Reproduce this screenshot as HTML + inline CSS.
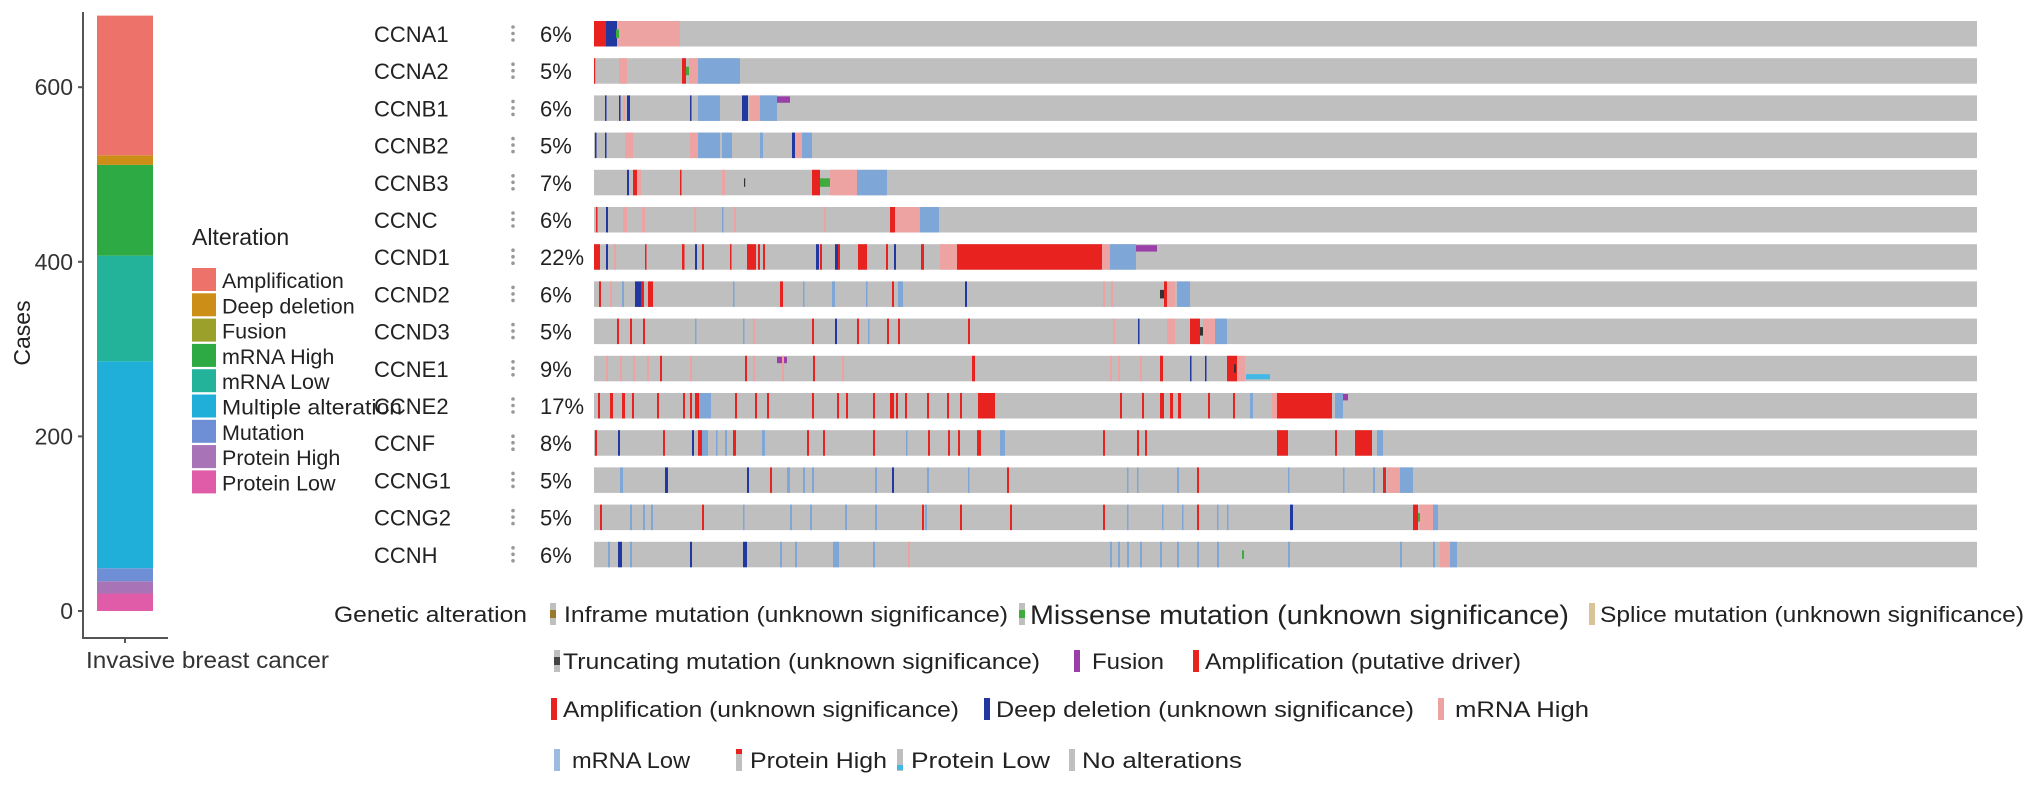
<!DOCTYPE html>
<html><head><meta charset="utf-8">
<style>
html,body{margin:0;padding:0;background:#fff;}
svg{display:block;font-family:"Liberation Sans",Arial,sans-serif;}
</style></head>
<body>
<svg id="chart" width="2032" height="786" viewBox="0 0 2032 786" xmlns="http://www.w3.org/2000/svg">
  <g id="bar-panel"></g>
  <g id="alt-legend"></g>
  <g id="onco"></g>
  <g id="gen-legend"></g>
</svg>
<script>
// ---------- stacked bar data ----------
const barCategories = ["Protein Low","Protein High","Mutation","Multiple alteration","mRNA Low","mRNA High","Fusion","Deep deletion","Amplification"];
const barValues = [20,14,15,237,121,104,0,11,160];
const barColors = ["#e05ba8","#a873b7","#6e8fd5","#1fafd8","#22b39a","#2eaa45","#9aa02a","#cc8e17","#ed726a"];
const yTicks = [0,200,400,600];
const legendOrder = ["Amplification","Deep deletion","Fusion","mRNA High","mRNA Low","Multiple alteration","Mutation","Protein High","Protein Low"];

// ---------- oncoprint data ----------
const genes = ["CCNA1","CCNA2","CCNB1","CCNB2","CCNB3","CCNC","CCND1","CCND2","CCND3","CCNE1","CCNE2","CCNF","CCNG1","CCNG2","CCNH"];
const percents = ["6%","5%","6%","5%","7%","6%","22%","6%","5%","9%","17%","8%","5%","5%","6%"];
const nSamples = 1383;
// events: [sampleStart, sampleWidth, type]
const evCCNA1 = [[0,12,"A"],[12,11,"D"],[23,63,"L"],[22,3,"M"]];
const evCCNA2 = [[0,1,"A"],[25,8,"L"],[88,4,"A"],[92,3,"M"],[95,9,"L"],[104,42,"B"]];
const evCCNB1 = [[11,1.5,"D"],[25,1.5,"D"],[29,2,"L"],[33,3,"D"],[96,1.5,"D"],[104,22,"B"],[148,6,"D"],[156,10,"L"],[166,17,"B"],[183,13,"F"]];
const evCCNB2 = [[1,1.5,"D"],[11,1.5,"D"],[31,8,"L"],[96,8,"L"],[104,22,"B"],[128,10,"B"],[166,3,"B"],[198,3,"D"],[201,7,"L"],[208,10,"B"]];
const evCCNB3 = [[33,2,"D"],[39,4,"A"],[43,4,"L"],[86,1.5,"A"],[128,3,"L"],[150,1,"T"],[218,8,"A"],[226,10,"M"],[236,27,"L"],[263,30,"B"]];
const evCCNC = [[2,1.5,"A"],[12,2,"D"],[29,4,"L"],[48,3,"L"],[100,2,"L"],[128,1.5,"B"],[140,2,"L"],[230,2,"L"],[296,5,"A"],[301,25,"L"],[326,19,"B"]];
const evCCND1 = [[0,6,"A"],[12,2,"D"],[20,2,"L"],[51,1.5,"A"],[88,2.5,"A"],[101,2,"D"],[108,2,"A"],[136,1.5,"A"],[153,6,"A"],[159,3,"A"],[164,2,"A"],[169,2,"A"],[222,3,"D"],[226,2,"A"],[241,3,"D"],[244,2,"A"],[264,9,"A"],[292,2,"A"],[300,2,"D"],[327,3,"A"],[346,17,"L"],[363,145,"A"],[508,8,"L"],[516,26,"B"],[542,21,"F"]];
const evCCND2 = [[5,2,"A"],[16,2,"L"],[28,2,"B"],[41,8,"D"],[47,3,"A"],[54,5,"A"],[139,1.5,"B"],[186,3,"A"],[209,1.5,"B"],[238,3,"B"],[272,1.5,"B"],[298,2,"A"],[304,5,"B"],[371,2,"D"],[509,2,"L"],[517,2,"L"],[566,4,"T"],[570,3,"A"],[573,8,"L"],[583,13,"B"]];
const evCCND3 = [[23,2,"A"],[36,2,"A"],[49,2,"A"],[101,1.5,"B"],[149,1.5,"B"],[159,2,"L"],[218,2,"A"],[241,2,"D"],[263,2,"A"],[274,1.5,"B"],[293,2,"A"],[304,2,"A"],[374,2,"A"],[519,2,"L"],[544,1.5,"D"],[573,8,"L"],[596,10,"A"],[606,3,"T"],[609,12,"L"],[621,12,"B"]];
const evCCNE1 = [[12,2,"L"],[26,2,"L"],[39,2,"L"],[53,2,"L"],[66,2,"A"],[96,2,"L"],[151,2,"A"],[159,2,"L"],[183,10,"F"],[188,2,"L"],[219,2,"A"],[248,2,"L"],[378,3,"A"],[516,2,"L"],[524,2,"L"],[546,2,"L"],[566,3,"A"],[596,1.5,"D"],[611,1.5,"D"],[633,10,"A"],[640,2,"T"],[643,8,"L"],[652,24,"Q"]];
const evCCNE2 = [[4,2,"A"],[16,3,"A"],[28,3,"A"],[38,2,"A"],[63,2,"A"],[89,2,"A"],[96,2,"A"],[101,4,"A"],[105,12,"B"],[141,2,"A"],[161,2,"A"],[173,2,"A"],[218,2,"A"],[243,2,"A"],[252,2,"A"],[279,2,"A"],[296,4,"A"],[302,2,"A"],[311,2,"A"],[333,2,"A"],[353,2,"A"],[366,2,"A"],[384,17,"A"],[526,2,"A"],[548,2,"A"],[566,4,"A"],[576,3,"A"],[584,3,"A"],[614,2,"A"],[639,2,"A"],[656,3,"B"],[678,5,"L"],[683,55,"A"],[741,8,"B"],[749,5,"F"]];
const evCCNF = [[1,2,"A"],[24,2,"D"],[69,2,"A"],[98,2,"D"],[104,4,"A"],[108,6,"B"],[122,1.5,"B"],[131,2,"B"],[139,3,"A"],[168,3,"B"],[213,2,"A"],[229,2,"A"],[279,2,"A"],[312,1.5,"B"],[334,2,"A"],[354,2,"A"],[364,2,"A"],[383,4,"A"],[406,5,"B"],[509,2,"A"],[543,2,"A"],[551,2,"A"],[683,11,"A"],[741,2,"A"],[761,17,"A"],[783,6,"B"]];
const evCCNG1 = [[26,3,"B"],[71,3,"D"],[153,2,"D"],[176,2,"A"],[193,3,"B"],[209,2,"B"],[218,2,"B"],[281,2,"B"],[298,2,"D"],[333,2,"B"],[374,1.5,"B"],[413,2,"A"],[533,1.5,"B"],[543,1.5,"B"],[583,2,"B"],[603,2,"A"],[694,1.5,"B"],[749,1.5,"B"],[779,2,"B"],[789,3,"A"],[793,13,"L"],[806,13,"B"]];
const evCCNG2 = [[6,2,"A"],[36,2,"B"],[49,2,"B"],[57,2,"B"],[108,2,"A"],[149,1.5,"B"],[196,2,"B"],[216,2,"B"],[251,2,"B"],[281,2,"B"],[328,2,"A"],[331,2,"B"],[366,2,"A"],[416,2,"A"],[509,2,"A"],[533,1.5,"B"],[568,1.5,"B"],[588,1.5,"B"],[603,2,"A"],[623,1.5,"B"],[633,1.5,"B"],[696,3,"D"],[819,5,"A"],[824,2,"M"],[826,13,"L"],[839,5,"B"]];
const evCCNH = [[14,2,"B"],[24,4,"D"],[36,2,"B"],[96,2,"D"],[149,4,"D"],[186,2,"B"],[201,2,"B"],[239,6,"B"],[279,2,"B"],[314,2,"L"],[516,2,"B"],[524,2,"B"],[533,2,"B"],[546,2,"B"],[566,2,"B"],[583,2,"B"],[603,2,"B"],[623,2,"B"],[648,2,"M"],[694,2,"B"],[806,2,"B"],[839,2,"B"],[846,10,"L"],[856,7,"B"]];
const geneEvents = [evCCNA1,evCCNA2,evCCNB1,evCCNB2,evCCNB3,evCCNC,evCCND1,evCCND2,evCCND3,evCCNE1,evCCNE2,evCCNF,evCCNG1,evCCNG2,evCCNH];

const NS = "http://www.w3.org/2000/svg";
function mk(tag, attrs, parent){
  const e = document.createElementNS(NS, tag);
  for (const k in attrs) e.setAttribute(k, attrs[k]);
  parent.appendChild(e);
  return e;
}

// ---------- bar chart ----------
const barPanel = document.getElementById("bar-panel");
const y0 = 611, pxPerCase = 0.873;
function yScale(v){ return y0 - v * pxPerCase; }
const axisY = mk("line",{x1:83,y1:12,x2:83,y2:638,stroke:"#555","stroke-width":2},barPanel);


const axisX = mk("line",{x1:82,y1:638,x2:168,y2:638,stroke:"#555","stroke-width":2},barPanel);


const xt = mk("line",{x1:125,y1:638,x2:125,y2:643,stroke:"#555","stroke-width":2},barPanel);


yTicks.forEach(t=>{
  const tk = mk("line",{x1:78,y1:yScale(t),x2:83,y2:yScale(t),stroke:"#555","stroke-width":2},barPanel);
  
  
  const tl = mk("text",{x:73,y:yScale(t)+8,"text-anchor":"end","font-size":23,fill:"#333"},barPanel);
  
  
  tl.textContent = t;
});
let cum = 0;
barValues.forEach((v,i)=>{
  const r = mk("rect",{x:97,y:yScale(cum+v),width:56,height:v*pxPerCase,fill:barColors[i]},barPanel);
  
  
  cum += v;
});
const yTitle = mk("text",{x:0,y:0,transform:"translate(30,333) rotate(-90)","text-anchor":"middle","font-size":23,fill:"#222"},barPanel);


yTitle.textContent = "Cases";
const xLab = mk("text",{x:86,y:668,"font-size":23,fill:"#333",textLength:243,lengthAdjust:"spacingAndGlyphs"},barPanel);


xLab.textContent = "Invasive breast cancer";

// ---------- alteration legend ----------
const altLeg = document.getElementById("alt-legend");
const lt = mk("text",{x:192,y:245,"font-size":23,fill:"#222"},altLeg);


lt.textContent = "Alteration";
legendOrder.forEach((name,i)=>{
  const ci = barCategories.indexOf(name);
  const g = mk("g",{},altLeg);
  
  
  mk("rect",{x:192,y:268+i*25.3,width:24,height:23,fill:barColors[ci]},g);
  const t = mk("text",{x:222,y:288+i*25.3,"font-size":21.5,fill:"#222"},g);
  if (name==="Multiple alteration"){ t.setAttribute("textLength",180); t.setAttribute("lengthAdjust","spacingAndGlyphs"); }
  t.textContent = name;
});

// ---------- oncoprint ----------
const onco = document.getElementById("onco");
const gridL = 594, gridR = 1977, rowTop0 = 21, rowStep = 37.2, rowH = 25.5;
function xScale(s){ return gridL + s * (gridR-gridL) / nSamples; }
function rowY(i){ return rowTop0 + i*rowStep; }
const typeColor = {A:"#e8221f",L:"#eea3a3",B:"#7ea6d6",D:"#2038a0",M:"#3dab3d",F:"#9b3fa8",Q:"#40b9e6",T:"#333"};
genes.forEach((gname,i)=>{
  const y = rowY(i);
  const lab = mk("text",{x:374,y:y+21,"font-size":22,fill:"#222"},onco);
  
  
  lab.textContent = gname;
  const dots = mk("g",{fill:"#999"},onco);
  
  
  [6,12.5,19].forEach(d=>mk("circle",{cx:513,cy:y+d,r:1.8},dots));
  const pc = mk("text",{x:540,y:y+21,"font-size":22,fill:"#222"},onco);
  
  
  pc.textContent = percents[i];
  const bg = mk("rect",{x:gridL,y:y,width:gridR-gridL,height:rowH,fill:"#bfbfbf"},onco);
  
  
  geneEvents[i].forEach(ev=>{
    const x = xScale(ev[0]), w = Math.max(1.2, xScale(ev[0]+ev[1]) - x), t = ev[2];
    let yy = y, hh = rowH;
    if (t==="M"||t==="T"){ yy = y+rowH/3; hh = rowH/3; }
    if (t==="F"){ yy = y+1; hh = rowH/4; }
    if (t==="Q"){ yy = y+rowH*0.72; hh = rowH/5; }
    const r = mk("rect",{x:x,y:yy,width:w,height:hh,fill:typeColor[t]},onco);
    
    
  });
});

// ---------- genetic alteration legend ----------
const gl = document.getElementById("gen-legend");
const glt = mk("text",{x:334,y:622,"font-size":22,fill:"#222",textLength:193,lengthAdjust:"spacingAndGlyphs"},gl);


glt.textContent = "Genetic alteration";
// [iconX, textX, textEnd, rowCenterY, label, bg, fg, fgMode, fontSize]
const gItems = [
  [550,564,1008,614,"Inframe mutation (unknown significance)","#bfbfbf","#9a7a2a","mid",22],
  [1019,1030,1569,614,"Missense mutation (unknown significance)","#bfbfbf","#3dab3d","mid",27],
  [1589,1600,2024,614,"Splice mutation (unknown significance)","#d9c49a","#d9c49a","mid",22],
  [554,563,1040,661,"Truncating mutation (unknown significance)","#bfbfbf","#444","mid",22],
  [1074,1092,1164,661,"Fusion","#9b3fa8","#9b3fa8","full",22],
  [1193,1205,1521,661,"Amplification (putative driver)","#e8221f","#e8221f","full",22],
  [551,563,959,709,"Amplification (unknown significance)","#e8221f","#e8221f","full",22],
  [984,996,1414,709,"Deep deletion (unknown significance)","#2038a0","#2038a0","full",22],
  [1438,1455,1589,709,"mRNA High","#eea3a3","#eea3a3","full",22],
  [554,572,690,760,"mRNA Low","#9dbbe0","#7ea6d6","full",22],
  [736,750,887,760,"Protein High","#bfbfbf","#e8221f","top",22],
  [897,911,1050,760,"Protein Low","#bfbfbf","#40b9e6","bot",22],
  [1069,1082,1242,760,"No alterations","#bfbfbf","#bfbfbf","full",22]
];
gItems.forEach(it=>{
  const g = mk("g",{},gl);
  
  
  const iy = it[3]-11;
  mk("rect",{x:it[0],y:iy,width:6,height:22,fill:it[5]},g);
  if (it[7]==="mid") mk("rect",{x:it[0],y:iy+7,width:6,height:8,fill:it[6]},g);
  if (it[7]==="top") mk("rect",{x:it[0],y:iy,width:6,height:5,fill:it[6]},g);
  if (it[7]==="bot") mk("rect",{x:it[0],y:iy+16,width:6,height:5,fill:it[6]},g);
  const t = mk("text",{x:it[1],y:it[3]+(it[8]>24?10:8),"font-size":it[8],fill:"#222",textLength:it[2]-it[1],lengthAdjust:"spacingAndGlyphs"},g);
  t.textContent = it[4];
});
</script>
</body></html>
